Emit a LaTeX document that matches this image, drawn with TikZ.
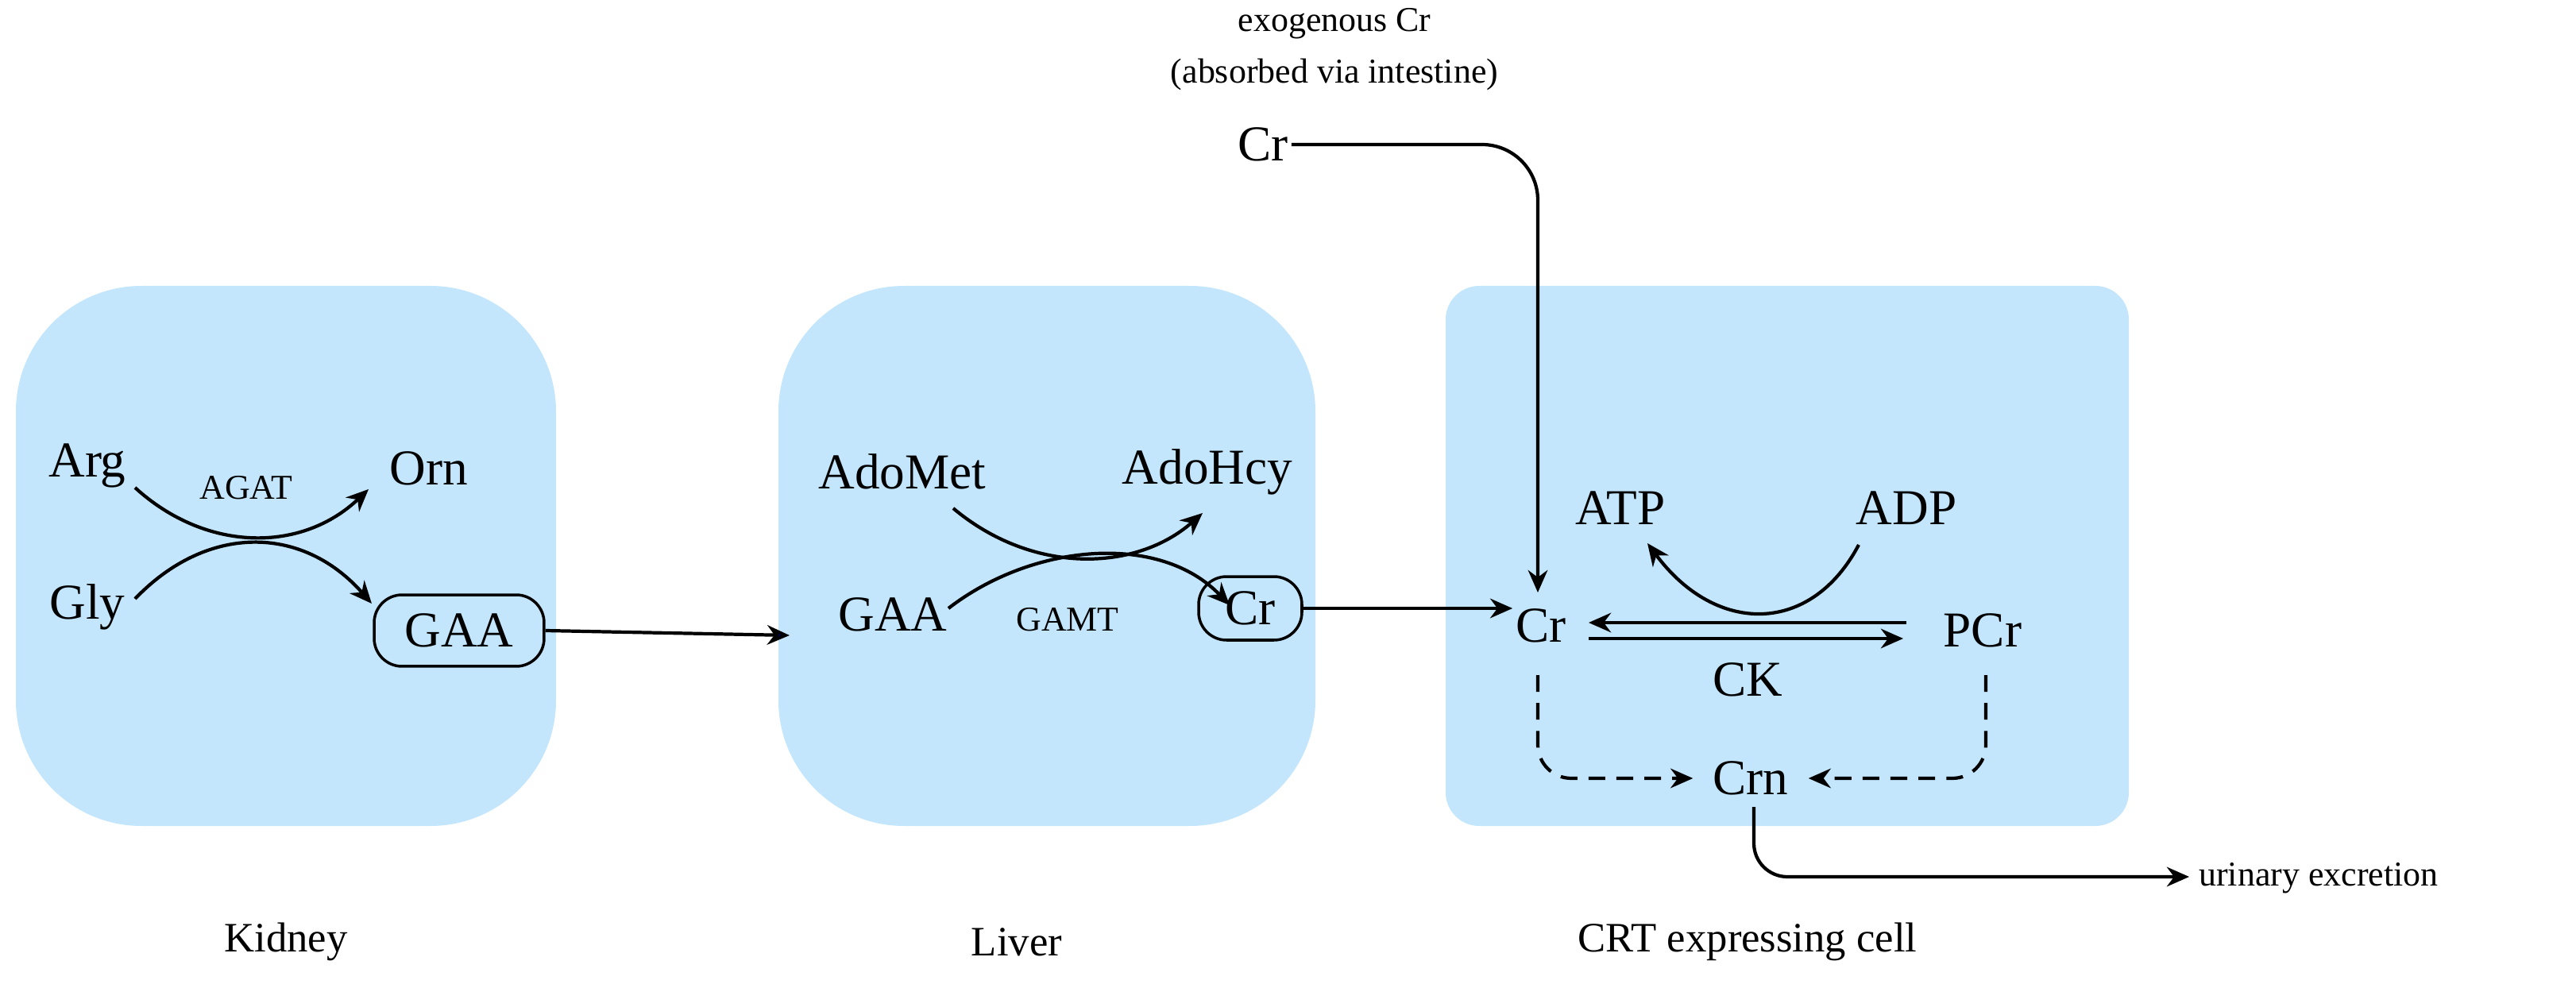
\documentclass[tikz,border=0pt]{standalone}
\usepackage{fontspec}
\setmainfont{Liberation Serif}
\usetikzlibrary{arrows.meta}
\definecolor{cellblue}{HTML}{C3E6FC}
\begin{document}
\begin{tikzpicture}[x=0.02cm,y=-0.02cm,
  organ/.style={fill=cellblue,draw=none},
  big/.style={font=\fontsize{18}{21}\selectfont,inner sep=1pt},
  small/.style={font=\fontsize{12.5}{15}\selectfont,inner sep=1pt},
  lbl/.style={font=\fontsize{15}{18}\selectfont,inner sep=1pt},
  arr/.style={line width=1.2pt,-{Stealth[length=8pt,width=7pt]}},
  darr/.style={arr,dash pattern=on 6pt off 4pt},
  boxed/.style={big,draw,line width=1pt,rounded corners=10pt,inner sep=2pt}]
\useasboundingbox (0,0) rectangle (1621.5,619.5);
\fill[organ,rounded corners=45pt] (10,180) rectangle (350,520);
\fill[organ,rounded corners=45pt] (490,180) rectangle (828,520);
\fill[organ,rounded corners=12pt] (910,180) rectangle (1340,520);
% Kidney
\node[big] (arg) at (55,293) {Arg};
\node[big] (orn) at (270,295) {Orn};
\node[big] (gly) at (55,382) {Gly};
\node[boxed,minimum width=2.14cm,minimum height=0.9cm] (gaa1) at (289,397) {GAA};
\node[small] (agat) at (155,307) {AGAT};
\coordinate (k1) at (85,307); \coordinate (k2) at (232,308);
\coordinate (k3) at (85,377); \coordinate (k4) at (234,380);
\draw[arr] (k1) .. controls (130,348) and (190,348) .. (k2);
\draw[arr] (k3) .. controls (130,330) and (190,330) .. (k4);
% Liver
\node[big] (adomet) at (568,297) {AdoMet};
\node[big] (adohcy) at (760,297) {AdoHcy};
\node[big] (gaa2) at (562,387) {GAA};
\node[boxed,minimum width=1.3cm,minimum height=0.8cm] (cr2) at (787,383) {Cr};
\node[small] (gamt) at (672,390) {GAMT};
\coordinate (l1) at (600,320); \coordinate (l2) at (757,323);
\coordinate (l3) at (597,383); \coordinate (l4) at (774,381);
\draw[arr] (l1) .. controls (650,362) and (715,360) .. (l2);
\draw[arr] (l3) .. controls (650,342) and (730,335) .. (l4);
\coordinate (lin) at (497,400);
\draw[line width=1.2pt,-{Stealth[length=8pt,width=7pt,fill=blue!40!black]}] (gaa1.east) -- (lin);
% exogenous
\node[small] (exo) at (840,15) {exogenous Cr};
\node[small] (abs) at (840,47) {(absorbed via intestine)};
\node[big] (crx) at (795,91) {Cr};
% CRT cell
\node[big] (atp) at (1020,320) {ATP};
\node[big] (adp) at (1200,320) {ADP};
\node[big] (cr3) at (970,394) {Cr};
\node[big] (pcr) at (1248,397) {PCr};
\node[big] (ck) at (1100,428) {CK};
\node[big] (crn) at (1102,490) {Crn};
\draw[arr] (cr2.east) -- (cr2.east -| cr3.west);
\draw[arr,rounded corners=20pt] (crx.east) -- (968,91) -- (968,373);
\draw[arr] (1000,402) -- (1198,402);
\draw[arr] (1200,392) -- (1000,392);
\coordinate (a1) at (1170,343); \coordinate (a2) at (1037,342);
\draw[arr] (a1) .. controls (1140,400) and (1080,400) .. (a2);
\draw[darr,rounded corners=12pt] (968,425) |- ([xshift=-6pt]crn.west);
\draw[darr,rounded corners=12pt] (1250,425) |- ([xshift=6pt]crn.east);
\coordinate (ue) at (1378,552);
\draw[arr,rounded corners=12pt] (1104,508) |- (ue);
\node[small,anchor=west] (uex) at (1382,553) {urinary excretion};
% labels
\node[lbl] (kid) at (180,593) {Kidney};
\node[lbl] (liv) at (640,593) {Liver};
\node[lbl] (crt) at (1100,593) {CRT expressing cell};
\end{tikzpicture}
\end{document}
